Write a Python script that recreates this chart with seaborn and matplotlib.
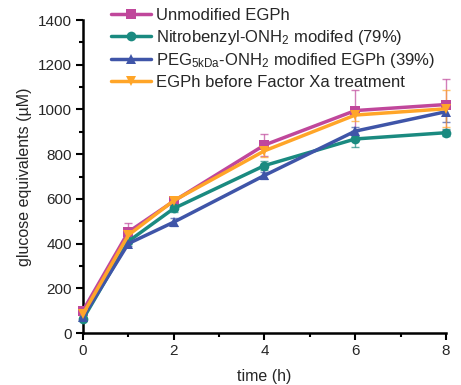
import matplotlib
matplotlib.use("Agg")
import matplotlib.pyplot as plt
import seaborn as sns
import pandas as pd
import numpy as np
from matplotlib.ticker import MultipleLocator

sns.set_style("ticks")
plt.rcParams['font.family'] = ['Liberation Sans', 'DejaVu Sans']
plt.rcParams['mathtext.fontset'] = 'custom'
plt.rcParams['mathtext.rm'] = 'Liberation Sans'
plt.rcParams['mathtext.it'] = 'Liberation Sans'

time = [0, 1, 2, 4, 6, 8]
series = ["Unmodified EGPh",
          "Nitrobenzyl-ONH$_\\mathregular{2}$ modifed (79%)",
          "PEG$_\\mathregular{5kDa}$-ONH$_\\mathregular{2}$ modified EGPh (39%)",
          "EGPh before Factor Xa treatment"]
unmod = [100, 452, 590, 841, 995, 1022]
unmod_err = [10, 38, 12, 48, 92, 112]
nitro = [62, 410, 557, 749, 868, 896]
nitro_err = [8, 12, 15, 20, 36, 15]
peg = [72, 400, 496, 705, 903, 990]
peg_err = [8, 12, 18, 15, 20, 45]
before = [85, 438, 592, 815, 975, 1003]
before_err = [8, 15, 12, 28, 25, 82]

colors = ["#C0479B", "#1A8A80", "#3F55A8", "#FFA528"]
markers = ["s", "o", "^", "v"]

vals = [unmod, nitro, peg, before]
errs = [unmod_err, nitro_err, peg_err, before_err]
rows = []
for name, v, e in zip(series, vals, errs):
    for t, y, ee in zip(time, v, e):
        rows.append(dict(time=t, value=y, err=ee, series=name))
df = pd.DataFrame(rows)

fig = plt.figure(figsize=(4.61, 3.85), dpi=100)
ax = fig.add_axes([0.18, 0.135, 0.7875, 0.813])

for name, c, m in zip(series, colors, markers):
    d = df[df.series == name]
    ax.errorbar(d.time, d.value, yerr=d.err, fmt='none', ecolor=c, elinewidth=1,
                capsize=3, capthick=1, alpha=0.7, clip_on=False, zorder=2)

sns.lineplot(data=df, x="time", y="value", hue="series", style="series",
             palette=colors, markers=markers, dashes=False, linewidth=2.5,
             markersize=7, markeredgewidth=0, ax=ax, legend=True, zorder=3)
for l in ax.lines:
    l.set_clip_on(False)

ax.set_xlim(0, 8)
ax.set_ylim(0, 1400)
ax.xaxis.set_major_locator(MultipleLocator(2))
ax.xaxis.set_minor_locator(MultipleLocator(1))
ax.yaxis.set_major_locator(MultipleLocator(200))
ax.yaxis.set_minor_locator(MultipleLocator(100))
ax.tick_params(which='major', direction='out', length=5, width=1.5, labelsize=11, color='black', pad=3)
ax.tick_params(which='minor', direction='out', length=3, width=1.5, color='black')
for s in ['left', 'bottom']:
    ax.spines[s].set_linewidth(1.8)
    ax.spines[s].set_color('black')
sns.despine(ax=ax)
ax.set_xlabel("time (h)", fontsize=11.5, labelpad=8)
ax.set_ylabel("glucose equivalents (\u00b5M)", fontsize=11.5, labelpad=4)

leg = ax.legend(loc='upper left', bbox_to_anchor=(0.06, 1.06), frameon=False,
                fontsize=12, handlelength=2.4, handletextpad=0.3, labelspacing=0.28,
                borderaxespad=0)

fig.savefig("out.png", dpi=100)
